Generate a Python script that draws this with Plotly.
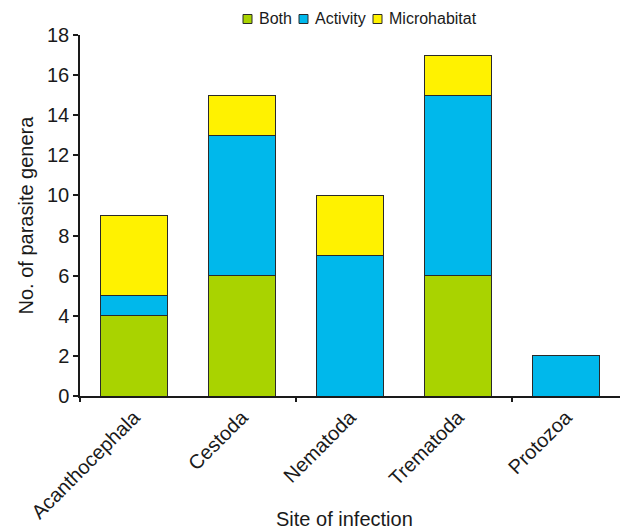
import plotly.graph_objects as go

categories = ["Acanthocephala", "Cestoda", "Nematoda", "Trematoda", "Protozoa"]
both = [4, 6, 0, 6, 0]
activity = [1, 7, 7, 9, 2]
microhabitat = [4, 2, 3, 2, 0]
yticks = [0, 2, 4, 6, 8, 10, 12, 14, 16, 18]
series_names = ["Both", "Activity", "Microhabitat"]
series_colors = ["#A9D300", "#00B8EB", "#FFF200"]

W, H = 620, 532
L, R, T, B = 80, 0, 35, 136
pw, ph = W - L - R, H - T - B

def px(x):
    return (x - L) / pw

def py(y):
    return (H - B - y) / ph

xpos = list(range(len(categories)))
fig = go.Figure()
for name, vals, col in zip(series_names, [both, activity, microhabitat], series_colors):
    fig.add_trace(go.Bar(x=xpos, y=vals, name=name, width=0.62, showlegend=False,
                         marker=dict(color=col, line=dict(color="#2a2a2a", width=1))))
fig.add_trace(go.Scatter(x=[-0.5, 4.5], y=[0, 0], xaxis="x2", mode="lines",
                         line=dict(width=0), showlegend=False, hoverinfo="skip"))

# compact legend drawn as shapes + text
legend_x = [243, 299, 373]
shapes, annotations = [], []
for lx, name, col in zip(legend_x, series_names, series_colors):
    shapes.append(dict(type="rect", xref="paper", yref="paper",
                       x0=px(lx), x1=px(lx + 9), y0=py(23.5), y1=py(14.5),
                       fillcolor=col, line=dict(color="#2a2a2a", width=1)))
    annotations.append(dict(text=name, xref="paper", yref="paper", x=px(lx + 14),
                            y=py(19), xanchor="left", yanchor="middle", showarrow=False,
                            font=dict(size=16)))

annotations += [
    dict(text="Site of infection", xref="paper", yref="paper", x=px(344),
         y=py(519), xanchor="center", yanchor="middle", showarrow=False,
         font=dict(size=20)),
    dict(text="No. of parasite genera", xref="paper", yref="paper",
         x=px(25), y=0.5, xanchor="center", yanchor="middle",
         textangle=-90, showarrow=False, font=dict(size=20)),
]

font = "Liberation Sans, Arial, sans-serif"
fig.update_layout(
    barmode="stack",
    width=W, height=H,
    margin=dict(l=L, r=R, t=T, b=B, autoexpand=False),
    paper_bgcolor="white", plot_bgcolor="white",
    font=dict(family=font, color="#1a1a1a", size=20),
    showlegend=False,
    xaxis=dict(range=[-0.5, 4.5], tickvals=xpos, ticktext=categories, tickangle=-45,
               ticks="", showline=True, linecolor="#1a1a1a", linewidth=1.5,
               showgrid=False, zeroline=False, tickfont=dict(size=20), automargin=False),
    xaxis2=dict(range=[-0.5, 4.5], overlaying="x", anchor="y", side="bottom",
                tickvals=[-0.5, 1.5, 3.5], ticks="outside", ticklen=5, tickwidth=1.5,
                tickcolor="#1a1a1a", showticklabels=False, showgrid=False,
                zeroline=False, showline=False, automargin=False),
    yaxis=dict(range=[0, 18], tickvals=yticks, ticks="outside", ticklen=5,
               tickwidth=1.5, tickcolor="#1a1a1a", showline=True,
               linecolor="#1a1a1a", linewidth=1.5, showgrid=False, zeroline=False,
               tickfont=dict(size=20), automargin=False),
    shapes=shapes,
    annotations=annotations,
)
fig.write_html("out.html", config={"displayModeBar": False},
               post_script="document.body.style.margin='0';document.body.style.overflow='hidden';")
